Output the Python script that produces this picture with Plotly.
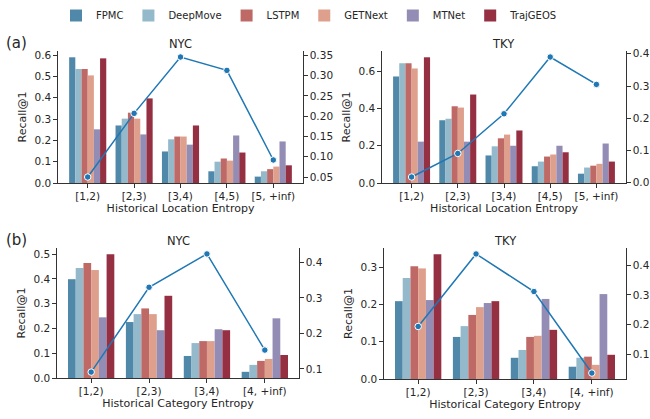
import plotly.graph_objects as go

W, H = 650, 419

models = ["FPMC", "DeepMove", "LSTPM", "GETNext", "MTNet", "TrajGEOS"]
model_colors = ["#5088aa", "#93b9cb", "#be6966", "#dea08d", "#938cb5", "#952f42"]

loc_bins = ["[1,2)", "[2,3)", "[3,4)", "[4,5)", "[5, +inf)"]
cat_bins = ["[1,2)", "[2,3)", "[3,4)", "[4, +inf)"]

# Recall@1 per model (rows follow `models`), per entropy bin
nyc_loc_recall = [
    [0.590, 0.270, 0.148, 0.055, 0.030],
    [0.535, 0.302, 0.205, 0.100, 0.055],
    [0.535, 0.330, 0.218, 0.115, 0.065],
    [0.505, 0.302, 0.218, 0.105, 0.077],
    [0.252, 0.228, 0.180, 0.223, 0.195],
    [0.585, 0.397, 0.270, 0.143, 0.083],
]
tky_loc_recall = [
    [0.572, 0.337, 0.148, 0.090, 0.050],
    [0.643, 0.345, 0.197, 0.115, 0.083],
    [0.643, 0.412, 0.240, 0.142, 0.093],
    [0.615, 0.405, 0.260, 0.153, 0.103],
    [0.222, 0.222, 0.200, 0.200, 0.212],
    [0.675, 0.475, 0.282, 0.165, 0.115],
]
nyc_cat_recall = [
    [0.399, 0.226, 0.089, 0.025],
    [0.444, 0.258, 0.141, 0.053],
    [0.464, 0.281, 0.149, 0.069],
    [0.436, 0.258, 0.149, 0.077],
    [0.245, 0.193, 0.197, 0.241],
    [0.500, 0.332, 0.193, 0.093],
]
tky_cat_recall = [
    [0.209, 0.113, 0.057, 0.033],
    [0.271, 0.142, 0.078, 0.057],
    [0.303, 0.172, 0.113, 0.060],
    [0.297, 0.193, 0.116, 0.038],
    [0.212, 0.204, 0.215, 0.228],
    [0.335, 0.209, 0.132, 0.065],
]

# secondary-axis line series (share of samples per bin)
nyc_loc_share = [0.050, 0.207, 0.346, 0.313, 0.092]
tky_loc_share = [0.018, 0.091, 0.214, 0.390, 0.305]
nyc_cat_share = [0.091, 0.330, 0.424, 0.153]
tky_cat_share = [0.194, 0.437, 0.311, 0.038]

left_ticks_nyc_loc = [0.0, 0.1, 0.2, 0.3, 0.4, 0.5, 0.6]
right_ticks_nyc_loc = [0.05, 0.10, 0.15, 0.20, 0.25, 0.30, 0.35]
left_ticks_tky_loc = [0.0, 0.2, 0.4, 0.6]
right_ticks_tky_loc = [0.0, 0.1, 0.2, 0.3, 0.4]
left_ticks_nyc_cat = [0.0, 0.1, 0.2, 0.3, 0.4, 0.5]
right_ticks_nyc_cat = [0.1, 0.2, 0.3, 0.4]
left_ticks_tky_cat = [0.0, 0.1, 0.2, 0.3]
right_ticks_tky_cat = [0.1, 0.2, 0.3, 0.4]

TXT = "#262626"
AX = "#333333"
FONT = "DejaVu Sans"
LINE_C = "#1f77b4"


def margin_range(vals, frac=0.05, zero=False):
    lo, hi = min(vals), max(vals)
    if zero:
        return [0.0, hi * (1 + frac)]
    span = hi - lo
    return [lo - span * frac, hi + span * frac]


panels = [
    (loc_bins, nyc_loc_recall, nyc_loc_share, (58, 303), (51, 183),
     left_ticks_nyc_loc, right_ticks_nyc_loc, ".2f", "Historical Location Entropy", "NYC"),
    (loc_bins, tky_loc_recall, tky_loc_share, (382, 626), (51, 183),
     left_ticks_tky_loc, right_ticks_tky_loc, ".1f", "Historical Location Entropy", "TKY"),
    (cat_bins, nyc_cat_recall, nyc_cat_share, (57, 299), (248, 378),
     left_ticks_nyc_cat, right_ticks_nyc_cat, ".1f", "Historical Category Entropy", "NYC"),
    (cat_bins, tky_cat_recall, tky_cat_share, (384, 626), (248, 379),
     left_ticks_tky_cat, right_ticks_tky_cat, ".1f", "Historical Category Entropy", "TKY"),
]

fig = go.Figure()
layout = {}
annotations = []

for k, (bins, rows, share, xd, yd, lt, rt, rfmt, xtitle, title) in enumerate(panels, start=1):
    xa = "x" if k == 1 else f"x{k}"
    yl_i, yr_i = 2 * k - 1, 2 * k
    yl = "y" if yl_i == 1 else f"y{yl_i}"
    yr = f"y{yr_i}"
    for m, c, vals in zip(models, model_colors, rows):
        fig.add_trace(go.Bar(x=bins, y=vals, name=m, marker=dict(color=c, line=dict(width=0)),
                             legendgroup=m, showlegend=(k == 1), xaxis=xa, yaxis=yl))
    fig.add_trace(go.Scatter(x=bins, y=share, mode="lines+markers", showlegend=False,
                             line=dict(color=LINE_C, width=1.5),
                             marker=dict(size=6.5, color=LINE_C, line=dict(color="white", width=1)),
                             xaxis=xa, yaxis=yr))
    n = len(bins)
    xdom = [xd[0] / W, xd[1] / W]
    ydom = [1 - yd[1] / H, 1 - yd[0] / H]
    all_vals = [v for r in rows for v in r]
    common = dict(ticks="outside", ticklen=3.5, tickwidth=1, tickcolor=AX,
                  showline=True, linecolor=AX, linewidth=1.2, showgrid=False,
                  zeroline=False, automargin=False,
                  tickfont=dict(family=FONT, size=10.5, color=TXT))
    pad = 0.05 * (n - 0.2)
    layout["xaxis" if k == 1 else f"xaxis{k}"] = dict(
        domain=xdom, anchor=yl, type="category", range=[-0.4 - pad, n - 0.6 + pad],
        title=dict(text=xtitle, font=dict(family=FONT, size=11, color=TXT), standoff=3),
        **common)
    layout["yaxis" if yl_i == 1 else f"yaxis{yl_i}"] = dict(
        domain=ydom, anchor=xa, range=margin_range(all_vals, zero=True),
        tickvals=lt, tickformat=".1f",
        title=dict(text="Recall@1", font=dict(family=FONT, size=11, color=TXT), standoff=5),
        **common)
    layout[f"yaxis{yr_i}"] = dict(
        overlaying=yl, anchor=xa, side="right", range=margin_range(share),
        tickvals=rt, tickformat=rfmt, **common)
    annotations.append(dict(text=title, xref="paper", yref="paper",
                            x=(xd[0] + xd[1]) / 2 / W, y=1 - (yd[0] - 7) / H,
                            xanchor="center", yanchor="middle", showarrow=False,
                            font=dict(family=FONT, size=11.5, color=TXT)))

annotations.append(dict(text="(a)", xref="paper", yref="paper", x=4 / W, y=1 - 43 / H,
                        xanchor="left", yanchor="middle", showarrow=False,
                        font=dict(family=FONT, size=15, color=TXT)))
annotations.append(dict(text="(b)", xref="paper", yref="paper", x=4 / W, y=1 - 240 / H,
                        xanchor="left", yanchor="middle", showarrow=False,
                        font=dict(family=FONT, size=15, color=TXT)))

fig.update_layout(
    width=W, height=H, margin=dict(l=0, r=0, t=0, b=0, autoexpand=False),
    paper_bgcolor="white", plot_bgcolor="white",
    barmode="group", bargap=0.2, bargroupgap=0,
    font=dict(family=FONT, size=10.5, color=TXT),
    legend=dict(orientation="h", x=56 / W, y=1 - 1 / H, xanchor="left", yanchor="top",
                font=dict(family=FONT, size=10, color=TXT), itemwidth=30,
                bgcolor="rgba(0,0,0,0)"),
    annotations=annotations,
    **layout,
)

fig.write_html("out.html", config={"displayModeBar": False},
               post_script="document.body.style.margin='0';document.body.style.padding='0';")
